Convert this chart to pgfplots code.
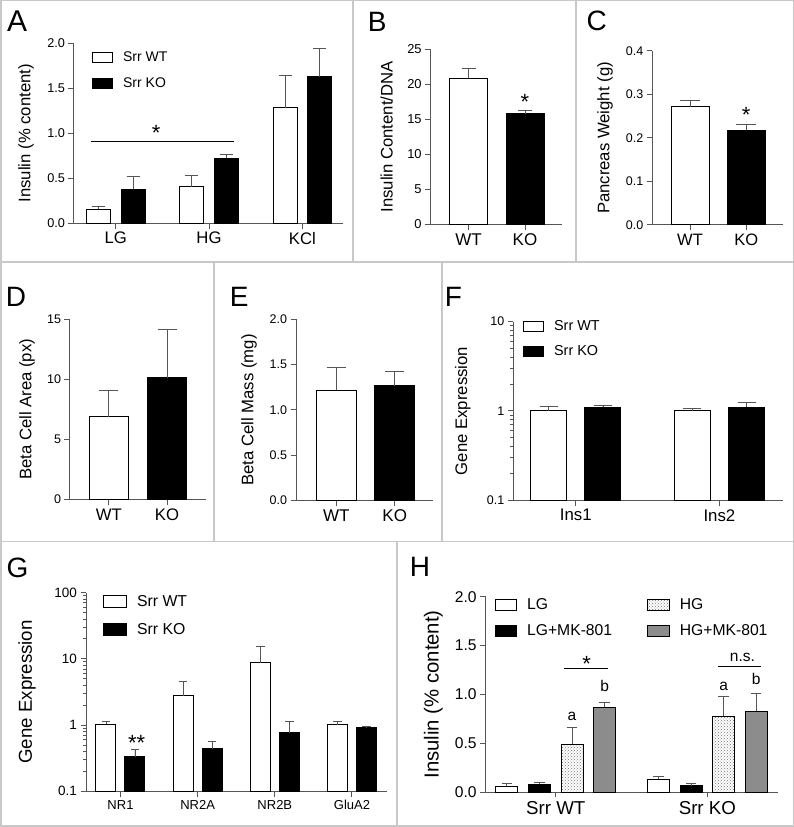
\documentclass[border=0pt]{standalone}
\usepackage{fontspec}
\setmainfont{Liberation Sans}
\usepackage{pgfplots}
\pgfplotsset{compat=1.18}
\usetikzlibrary{patterns}
\definecolor{axgray}{RGB}{85,85,85}
\definecolor{framegray}{RGB}{200,200,200}
\definecolor{hgmk}{RGB}{140,140,140}
\newcommand{\fs}[1]{\fontsize{#1}{#1}\selectfont}
\pgfplotsset{
  gp/.style={
    scale only axis, enlargelimits=false, clip=false,
    anchor=south west,
    axis x line*=bottom, axis y line*=left,
    axis line style={draw=axgray, line width=1pt, -},
    every tick/.style={draw=axgray, line width=1pt},
    tick align=outside, major tick length=5.5pt, minor tick length=3pt,
    ybar,
    /pgf/number format/assume math mode=true,
    error bars/y dir=plus, error bars/y explicit,
    error bars/error bar style={draw=axgray, line width=0.9pt, solid},
    legend image code/.code={\draw[#1, line width=0.9pt] (0pt,-5pt) rectangle (20pt,5pt);},
    legend cell align=left,
    legend style={draw=none, fill=none, inner sep=0pt, anchor=north west,
      nodes={inner sep=0pt},
      /tikz/every odd column/.append style={column sep=10pt}},
  },
  wt/.style={fill=white, draw=black, line width=1pt},
  ko/.style={fill=black, draw=black, line width=1pt},
  ylfix/.style={yticklabel style={/pgf/number format/fixed, /pgf/number format/fixed zerofill, /pgf/number format/precision=1}},
  emk/.style={error bars/error mark options={rotate=90, draw=axgray, line width=0.9pt, mark size=#1}},
}
\begin{document}
\begin{tikzpicture}[x=1pt,y=1pt]
\path[use as bounding box] (0,0) rectangle (794,827);
% panel frames
\draw[framegray, line width=1.5pt] (0.75,0.75) rectangle (793.25,826.25);
\draw[framegray, line width=1.5pt] (0,565) -- (794,565);
\draw[framegray, line width=1.5pt] (0,285.5) -- (794,285.5);
\draw[framegray, line width=1.5pt] (353,565) -- (353,827);
\draw[framegray, line width=1.5pt] (576,565) -- (576,827);
\draw[framegray, line width=1.5pt] (214,285.5) -- (214,565);
\draw[framegray, line width=1.5pt] (442,285.5) -- (442,565);
\draw[framegray, line width=1.5pt] (397,0) -- (397,285.5);
% panel letters
\node[anchor=base west, inner sep=0, font=\fs{30}] at (7,795) {A};
\node[anchor=base west, inner sep=0, font=\fs{28}] at (367.6,795) {B};
\node[anchor=base west, inner sep=0, font=\fs{28}] at (586.5,796) {C};
\node[anchor=base west, inner sep=0, font=\fs{28}] at (5.6,520) {D};
\node[anchor=base west, inner sep=0, font=\fs{28}] at (229.6,520) {E};
\node[anchor=base west, inner sep=0, font=\fs{28}] at (444.6,520) {F};
\node[anchor=base west, inner sep=0, font=\fs{28}] at (6.5,249) {G};
\node[anchor=base west, inner sep=0, font=\fs{28}] at (409.6,250) {H};

% ---------------- A
\begin{axis}[gp, at={(74pt,603.7pt)}, width=269pt, height=180pt,
  xmin=-0.447, xmax=2.436, ymin=0, ymax=2,
  xtick={0,1,2}, xticklabels={LG,HG,KCl},
  ytick={0,0.5,1,1.5,2}, ylfix,
  yticklabel style={font=\fs{12.7}}, xticklabel style={font=\fs{16.7}},
  ylabel={Insulin (\% content)},
  ylabel style={font=\fs{16.7}, at={(axis description cs:-0.178,0.5)}, anchor=center},
  emk=6.5pt,
  legend style={at={(axis description cs:0.067,0.952)}, font=\fs{14}, row sep=14pt},
]
\addplot[wt, bar width=24pt, bar shift=-17.3pt] coordinates {(0,0.156) +- (0,0.034) (1,0.407) +- (0,0.123) (2,1.284) +- (0,0.356)};
\addplot[ko, bar width=24pt, bar shift=17.3pt] coordinates {(0,0.377) +- (0,0.148) (1,0.72) +- (0,0.05) (2,1.63) +- (0,0.31)};
\legend{Srr WT, Srr KO}
\draw[black, line width=1.3pt] (axis cs:-0.268,0.91) -- (axis cs:1.268,0.91);
\node[anchor=north, inner sep=0, font=\fs{22}] at (axis cs:0.434,1.092) {*};
\end{axis}

% ---------------- B
\begin{axis}[gp, at={(430.7pt,602.5pt)}, width=131.6pt, height=175.2pt,
  xmin=-0.672, xmax=1.661, ymin=0, ymax=25,
  xtick={0,1}, xticklabels={WT,KO}, ytick={0,5,10,15,20,25},
  yticklabel style={font=\fs{12.9}}, xticklabel style={font=\fs{17}},
  ylabel={Insulin Content/DNA},
  ylabel style={font=\fs{16.7}, at={(axis description cs:-0.334,0.5)}, anchor=center},
  emk=7pt,
]
\addplot[wt, bar width=38pt, bar shift=0pt] coordinates {(0,20.9) +- (0,1.3)};
\addplot[ko, bar width=38pt, bar shift=0pt] coordinates {(1,15.8) +- (0,0.5)};
\node[anchor=north, inner sep=0, font=\fs{22}] at (axis cs:1,18.58) {*};
\end{axis}

% ---------------- C
\begin{axis}[gp, at={(652.3pt,602pt)}, width=130.7pt, height=174pt,
  xmin=-0.671, xmax=1.655, ymin=0, ymax=0.4,
  xtick={0,1}, xticklabels={WT,KO}, ytick={0,0.1,0.2,0.3,0.4}, ylfix,
  yticklabel style={font=\fs{12.5}}, xticklabel style={font=\fs{16.5}},
  ylabel={Pancreas Weight (g)},
  ylabel style={font=\fs{16.7}, at={(axis description cs:-0.362,0.5)}, anchor=center},
  emk=10pt,
]
\addplot[wt, bar width=38pt, bar shift=0pt] coordinates {(0,0.272) +- (0,0.015)};
\addplot[ko, bar width=38pt, bar shift=0pt] coordinates {(1,0.2177) +- (0,0.0123)};
\node[anchor=north, inner sep=0, font=\fs{22}] at (axis cs:1,0.2706) {*};
\end{axis}

% ---------------- D
\begin{axis}[gp, at={(70pt,327.5pt)}, width=135.7pt, height=180.2pt,
  xmin=-0.667, xmax=1.665, ymin=0, ymax=15,
  xtick={0,1}, xticklabels={WT,KO}, ytick={0,5,10,15},
  yticklabel style={font=\fs{12.5}}, xticklabel style={font=\fs{16.7}},
  ylabel={Beta Cell Area (px)},
  ylabel style={font=\fs{16.7}, at={(axis description cs:-0.317,0.5)}, anchor=center},
  emk=9.5pt,
]
\addplot[wt, bar width=39.5pt, bar shift=0pt] coordinates {(0,6.9) +- (0,2.14)};
\addplot[ko, bar width=39.5pt, bar shift=0pt] coordinates {(1,10.15) +- (0,4.03)};
\end{axis}

% ---------------- E
\begin{axis}[gp, at={(296pt,326.3pt)}, width=137pt, height=181.4pt,
  xmin=-0.69, xmax=1.656, ymin=0, ymax=2,
  xtick={0,1}, xticklabels={WT,KO}, ytick={0,0.5,1,1.5,2}, ylfix,
  yticklabel style={font=\fs{12.5}}, xticklabel style={font=\fs{17}},
  ylabel={Beta Cell Mass (mg)},
  ylabel style={font=\fs{16.7}, at={(axis description cs:-0.343,0.5)}, anchor=center},
  emk=9.5pt,
]
\addplot[wt, bar width=39.5pt, bar shift=0pt] coordinates {(0,1.218) +- (0,0.246)};
\addplot[ko, bar width=39.5pt, bar shift=0pt] coordinates {(1,1.265) +- (0,0.165)};
\end{axis}

% ---------------- F
\begin{axis}[gp, at={(513.3pt,326.7pt)}, width=269.4pt, height=178.6pt,
  ymode=log, log origin=infty,
  xmin=-0.435, xmax=1.441, ymin=0.1, ymax=10,
  xtick={0,1}, xticklabels={Ins1,Ins2},
  ytick={0.1,1,10}, yticklabels={0.1,1,10},
  minor ytick={0.2,0.3,0.4,0.5,0.6,0.7,0.8,0.9,2,3,4,5,6,7,8,9},
  yticklabel style={font=\fs{12.5}}, xticklabel style={font=\fs{16.8}},
  ylabel={Gene Expression},
  ylabel style={font=\fs{16.7}, at={(axis description cs:-0.187,0.5)}, anchor=center},
  emk=9pt,
  legend style={at={(axis description cs:0.036,1.0095)}, font=\fs{14.4}, row sep=14pt},
]
\addplot[wt, bar width=36pt, bar shift=-27.2pt] coordinates {(0,1.0) +- (0,0.11) (1,1.0) +- (0,0.07)};
\addplot[ko, bar width=36pt, bar shift=27.2pt] coordinates {(0,1.10) +- (0,0.067) (1,1.10) +- (0,0.14)};
\legend{Srr WT, Srr KO}
\end{axis}

% ---------------- G
\begin{axis}[gp, at={(86pt,35.7pt)}, width=300.7pt, height=198.6pt,
  ymode=log, log origin=infty,
  xmin=-0.447, xmax=3.45, ymin=0.1, ymax=100,
  xtick={0,1,2,3}, xticklabels={NR1,NR2A,NR2B,GluA2},
  ytick={0.1,1,10,100}, yticklabels={0.1,1,10,100},
  minor ytick={0.2,0.3,0.4,0.5,0.6,0.7,0.8,0.9,2,3,4,5,6,7,8,9,20,30,40,50,60,70,80,90},
  yticklabel style={font=\fs{13.5}}, xticklabel style={font=\fs{13}},
  ylabel={Gene Expression},
  ylabel style={font=\fs{18.7}, at={(axis description cs:-0.196,0.5)}, anchor=center},
  emk=4.3pt,
  legend image code/.code={\draw[#1, line width=0.9pt] (0pt,-6pt) rectangle (23pt,6pt);},
  legend style={at={(axis description cs:0.0565,0.988)}, font=\fs{15.8}, row sep=15pt},
]
\addplot[wt, bar width=20pt, bar shift=-14.5pt] coordinates {(0,1.03) +- (0,0.12) (1,2.76) +- (0,1.83) (2,8.8) +- (0,6.5) (3,1.02) +- (0,0.1)};
\addplot[ko, bar width=20pt, bar shift=14.5pt] coordinates {(0,0.33) +- (0,0.10) (1,0.437) +- (0,0.12) (2,0.76) +- (0,0.39) (3,0.91) +- (0,0.04)};
\legend{Srr WT, Srr KO}
\node[anchor=north, inner sep=0, font=\fs{22}] at (axis cs:0.21,0.71) {**};
\end{axis}

% ---------------- H
\begin{axis}[gp, at={(485.7pt,35pt)}, width=292.6pt, height=195.3pt,
  xmin=-0.462, xmax=1.468, ymin=0, ymax=2,
  xtick={0,1}, xticklabels={Srr WT,Srr KO},
  ytick={0,0.5,1,1.5,2}, ylfix,
  yticklabel style={font=\fs{15.6}}, xticklabel style={font=\fs{18.7}},
  ylabel={Insulin (\% content)},
  ylabel style={font=\fs{20.3}, at={(axis description cs:-0.179,0.5)}, anchor=center},
  emk=5.2pt,
  legend columns=2,
  legend image code/.code={\draw[#1, line width=0.9pt] (0pt,-5.3pt) rectangle (21.7pt,5.3pt);},
  legend style={at={(axis description cs:0.0294,0.9918)}, font=\fs{15.7}, row sep=14pt,
    /tikz/every even column/.append style={column sep=35pt}},
]
\addplot[wt, bar width=22pt, bar shift=-48.9pt] coordinates {(0,0.061) +- (0,0.028) (1,0.13) +- (0,0.034)};
\addplot[fill=white, draw=black, line width=1pt, postaction={pattern=crosshatch dots, pattern color=black!55}, bar width=22pt, bar shift=16.3pt] coordinates {(0,0.491) +- (0,0.167) (1,0.775) +- (0,0.208)};
\addplot[ko, bar width=22pt, bar shift=-16.3pt] coordinates {(0,0.079) +- (0,0.016) (1,0.065) +- (0,0.024)};
\addplot[fill=hgmk, draw=black, line width=1pt, bar width=22pt, bar shift=48.9pt] coordinates {(0,0.87) +- (0,0.051) (1,0.829) +- (0,0.184)};
\legend{LG, HG, LG+MK-801, HG+MK-801}
\draw[black, line width=1.3pt] (axis cs:0.057,1.267) -- (axis cs:0.347,1.267);
\draw[black, line width=1.3pt] (axis cs:1.0686,1.283) -- (axis cs:1.354,1.283);
\node[anchor=north, inner sep=0, font=\fs{22}] at (axis cs:0.2045,1.393) {*};
\node[anchor=base, inner sep=0, font=\fs{15.5}] at (axis cs:1.231,1.334) {n.s.};
\node[anchor=base, inner sep=0, font=\fs{15.5}] at (axis cs:0.1075,0.737) {a};
\node[anchor=base, inner sep=0, font=\fs{15.5}] at (axis cs:0.3226,1.034) {b};
\node[anchor=base, inner sep=0, font=\fs{15.5}] at (axis cs:1.1075,1.037) {a};
\node[anchor=base, inner sep=0, font=\fs{15.5}] at (axis cs:1.3226,1.096) {b};
\end{axis}
\end{tikzpicture}
\end{document}
